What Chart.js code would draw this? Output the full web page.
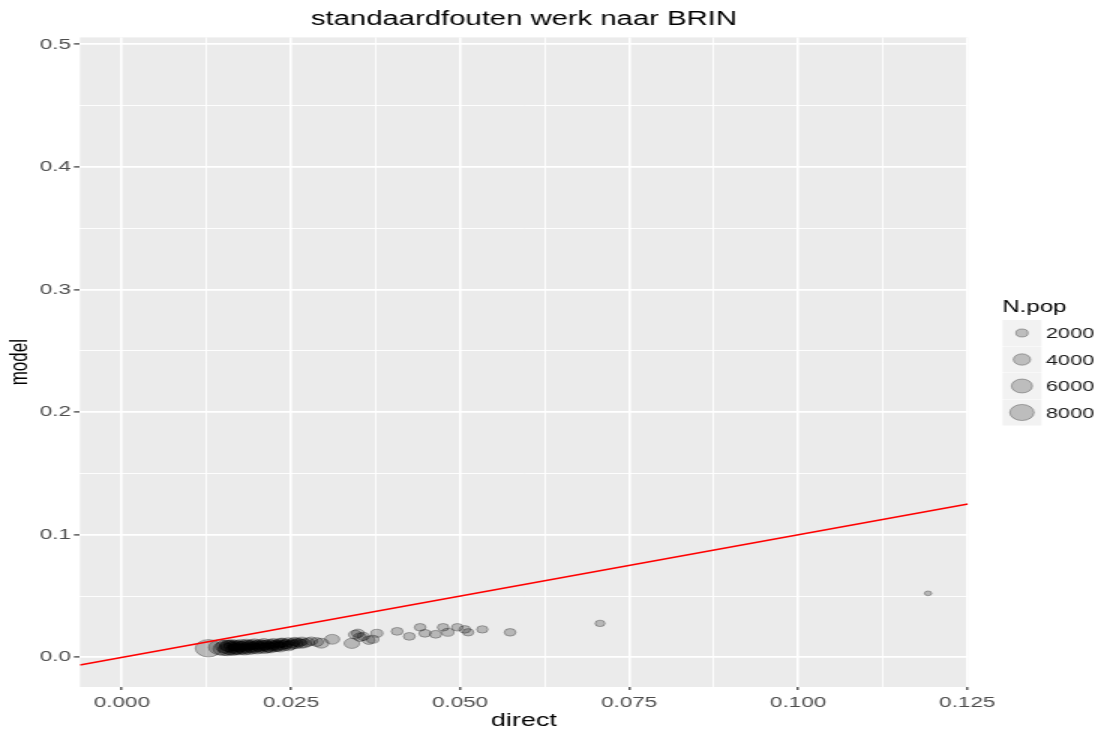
<!DOCTYPE html>
<html>
<head>
<meta charset="utf-8">
<title>standaardfouten werk naar BRIN</title>
<script src="https://cdn.jsdelivr.net/npm/chart.js@4/dist/chart.umd.min.js"></script>
<style>
  html, body { margin: 0; padding: 0; background: #fff; }
  /* the plot is laid out at 740px and widened to 1110px */
  #wrap { width: 740px; height: 733px; transform: scaleX(1.5); transform-origin: 0 0; }
</style>
</head>
<body>
<div id="wrap"><canvas id="se_brin" width="740" height="733"></canvas></div>
<script>
// standard errors per BRIN: direct estimate vs model estimate, bubble size = N.pop
const directSE = [
  0.0128, 0.0145, 0.0150, 0.0153, 0.0156, 0.0157, 0.0158, 0.0160, 0.0162, 0.0163,
  0.0164, 0.0166, 0.0168, 0.0169, 0.0170, 0.0172, 0.0174, 0.0175, 0.0176, 0.0178,
  0.0180, 0.0181, 0.0182, 0.0184, 0.0186, 0.0187, 0.0188, 0.0190, 0.0192, 0.0193,
  0.0194, 0.0196, 0.0198, 0.0199, 0.0200, 0.0202, 0.0204, 0.0205, 0.0206, 0.0208,
  0.0210, 0.0211, 0.0212, 0.0214, 0.0216, 0.0217, 0.0218, 0.0220, 0.0222, 0.0223,
  0.0224, 0.0226, 0.0228, 0.0229, 0.0230, 0.0232, 0.0234, 0.0235, 0.0236, 0.0238,
  0.0240, 0.0241, 0.0243, 0.0246, 0.0247, 0.0249, 0.0252, 0.0253, 0.0255, 0.0258,
  0.0259, 0.0262, 0.0265, 0.0266, 0.0270, 0.0275, 0.0280, 0.0288, 0.0295, 0.0311,
  0.0340, 0.0345, 0.0349, 0.0352, 0.0357, 0.0365, 0.0371, 0.0377, 0.0407, 0.0425,
  0.0441, 0.0448, 0.0464, 0.0475, 0.0482, 0.0496, 0.0507, 0.0512, 0.0533, 0.0574,
  0.0707, 0.1192
];
const modelSE = [
  0.0074, 0.0082, 0.0070, 0.0088, 0.0064, 0.0094, 0.0078, 0.0092, 0.0070, 0.0100,
  0.0083, 0.0062, 0.0097, 0.0068, 0.0078, 0.0090, 0.0066, 0.0088, 0.0103, 0.0081,
  0.0072, 0.0061, 0.0094, 0.0106, 0.0079, 0.0098, 0.0065, 0.0088, 0.0102, 0.0082,
  0.0072, 0.0110, 0.0086, 0.0100, 0.0070, 0.0093, 0.0106, 0.0087, 0.0077, 0.0096,
  0.0114, 0.0100, 0.0074, 0.0097, 0.0087, 0.0080, 0.0108, 0.0078, 0.0095, 0.0105,
  0.0116, 0.0086, 0.0102, 0.0088, 0.0094, 0.0112, 0.0084, 0.0118, 0.0100, 0.0120,
  0.0093, 0.0106, 0.0110, 0.0124, 0.0092, 0.0102, 0.0116, 0.0105, 0.0128, 0.0108,
  0.0122, 0.0118, 0.0110, 0.0131, 0.0114, 0.0124, 0.0132, 0.0125, 0.0115, 0.0147,
  0.0114, 0.0185, 0.0196, 0.0165, 0.0171, 0.0140, 0.0147, 0.0196, 0.0212, 0.0171,
  0.0245, 0.0196, 0.0188, 0.0245, 0.0204, 0.0245, 0.0228, 0.0204, 0.0228, 0.0204,
  0.0277, 0.0522
];
const popN = [
  9400, 7000, 5800, 5200, 4800, 4000, 5400, 4400, 5000, 3600,
  4200, 3900, 3700, 3600, 4500, 4000, 3800, 3400, 3500, 4200,
  3600, 3300, 3900, 3300, 3700, 3200, 3400, 3800, 3200, 3500,
  3500, 3100, 3600, 3000, 3300, 3400, 3000, 3300, 3500, 3200,
  2900, 2900, 3300, 3100, 3400, 3100, 2800, 3200, 3000, 2800,
  2700, 3100, 2900, 3000, 3200, 2600, 3000, 2700, 2800, 2500,
  2900, 2600, 2700, 2400, 2800, 2800, 2500, 2600, 2300, 2600,
  2400, 2400, 2500, 2200, 2500, 2300, 2200, 2400, 3000, 3000,
  3200, 2400, 2200, 2300, 2100, 2200, 2000, 2000, 1900, 1900,
  1800, 1900, 1900, 1800, 2000, 1800, 1800, 1700, 1700, 1800,
  1300, 700
];
const legendPop = [2000, 4000, 6000, 8000];

// axis limits (ggplot-style expanded)
const xMin = -0.0062, xMax = 0.1251;
const yMin = -0.0242, yMax = 0.5057;
// y = x reference line across the panel
const refLine = [xMin, xMax];

const bubbleR = n => 0.09 * Math.sqrt(n);
const pointFill = 'rgba(0,0,0,0.22)';
const pointEdge = 'rgba(0,0,0,0.28)';

Chart.defaults.font.family = "'Liberation Sans', Arial, sans-serif";

const isMajorX = v => Math.round(v * 10000) % 250 === 0;
const isMajorY = v => Math.round(v * 100) % 10 === 0;

// grey panel behind the grid
const panelBg = {
  id: 'panelBg',
  beforeDraw(chart) {
    const a = chart.chartArea, c = chart.ctx;
    c.save();
    c.fillStyle = '#EBEBEB';
    c.fillRect(a.left, a.top, a.right - a.left, a.bottom - a.top);
    c.restore();
  }
};

// size legend on the right
const sizeLegend = {
  id: 'sizeLegend',
  afterDraw(chart) {
    const c = chart.ctx;
    const left = chart.chartArea.right + 23;
    const key = 26;
    let top = 320;
    c.save();
    c.fillStyle = '#000';
    c.font = "16px 'Liberation Sans', Arial, sans-serif";
    c.textBaseline = 'middle';
    c.fillText('N.pop', left, 308);
    legendPop.forEach(n => {
      c.fillStyle = '#F2F2F2';
      c.fillRect(left, top, key, key);
      c.beginPath();
      c.arc(left + key / 2, top + key / 2, bubbleR(n), 0, Math.PI * 2);
      c.fillStyle = pointFill;
      c.fill();
      c.strokeStyle = pointEdge;
      c.lineWidth = 1;
      c.stroke();
      c.fillStyle = '#1a1a1a';
      c.font = "14.5px 'Liberation Sans', Arial, sans-serif";
      c.fillText(String(n), left + key + 3, top + key / 2 + 1);
      top += key + 0.5;
    });
    c.restore();
  }
};

const points = directSE.map((d, i) => ({ x: d, y: modelSE[i], r: bubbleR(popN[i]) }));

new Chart(document.getElementById('se_brin'), {
  data: {
    datasets: [
      {
        type: 'line',
        data: refLine.map(v => ({ x: v, y: v })),
        borderColor: '#FF0000',
        borderWidth: 1.5,
        pointRadius: 0,
        fill: false
      },
      {
        type: 'bubble',
        data: points,
        backgroundColor: pointFill,
        borderColor: pointEdge,
        borderWidth: 1
      }
    ]
  },
  options: {
    responsive: false,
    animation: false,
    events: [],
    layout: { padding: { top: 0, right: 94.7, bottom: 0, left: 0 } },
    plugins: {
      legend: { display: false },
      tooltip: { enabled: false },
      title: {
        display: true,
        fullSize: false,
        text: 'standaardfouten werk naar BRIN',
        color: '#000',
        font: { size: 19.5, weight: 'normal' },
        padding: { top: 8, bottom: 6 }
      }
    },
    scales: {
      x: {
        type: 'linear',
        min: xMin,
        max: xMax,
        afterFit: s => { s.height = 46; },
        border: { display: false },
        grid: {
          color: '#FFFFFF',
          lineWidth: ctx => isMajorX(ctx.tick.value) ? 1.6 : 0.9,
          tickLength: 3,
          tickWidth: 1.2,
          tickColor: ctx => isMajorX(ctx.tick.value) ? '#333333' : 'rgba(0,0,0,0)'
        },
        ticks: {
          stepSize: 0.0125,
          includeBounds: false,
          autoSkip: false,
          maxRotation: 0,
          padding: 4,
          color: '#4D4D4D',
          font: { size: 15 },
          callback: v => isMajorX(v) ? v.toFixed(3) : ''
        },
        title: {
          display: true,
          text: 'direct',
          color: '#000',
          font: { size: 18 },
          padding: { top: 1, bottom: 1 }
        }
      },
      y: {
        type: 'linear',
        min: yMin,
        max: yMax,
        afterFit: s => { s.width = 53.3; },
        border: { display: false },
        grid: {
          color: '#FFFFFF',
          lineWidth: ctx => isMajorY(ctx.tick.value) ? 1.8 : 0.9,
          tickLength: 4,
          tickWidth: 1.2,
          tickColor: ctx => isMajorY(ctx.tick.value) ? '#333333' : 'rgba(0,0,0,0)'
        },
        ticks: {
          stepSize: 0.05,
          includeBounds: false,
          autoSkip: false,
          padding: 2,
          color: '#4D4D4D',
          font: { size: 15 },
          callback: v => isMajorY(v) ? v.toFixed(1) : ''
        },
        title: {
          display: true,
          text: 'model',
          color: '#000',
          font: { size: 17 },
          padding: { top: 3, bottom: 0 }
        }
      }
    }
  },
  plugins: [panelBg, sizeLegend]
});
</script>
</body>
</html>
